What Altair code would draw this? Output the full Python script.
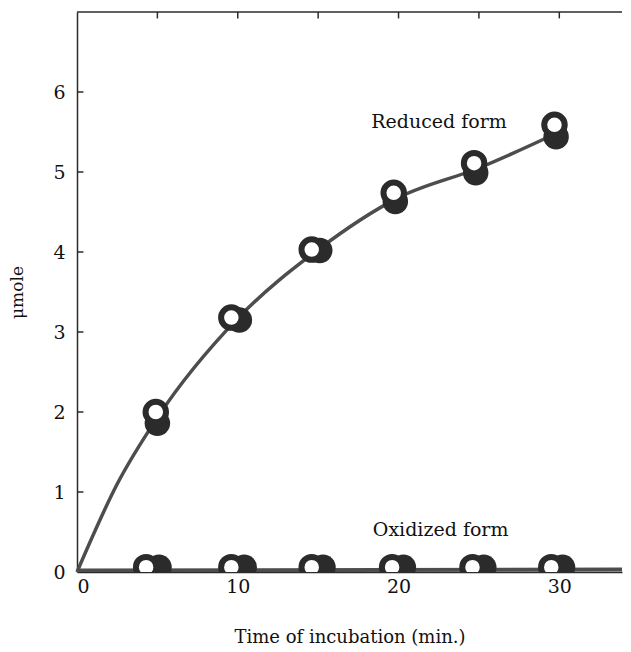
import altair as alt
import pandas as pd

# ---- data ----
# smooth curve through the reduced-form data
curve_x = [0, 2.5, 5, 10, 15, 20, 25, 30]
curve_y = [0, 1.1, 1.93, 3.17, 4.03, 4.68, 5.05, 5.5]

# reduced form: open and filled markers (duplicate determinations)
red_open_x = [4.9, 9.6, 14.6, 19.7, 24.7, 29.7]
red_open_y = [2.0, 3.18, 4.03, 4.74, 5.11, 5.59]
red_fill_x = [5.0, 10.1, 15.1, 19.8, 24.8, 29.8]
red_fill_y = [1.86, 3.15, 4.02, 4.63, 4.99, 5.44]

# oxidized form: open and filled markers along the baseline
ox_open_x = [4.3, 9.6, 14.6, 19.6, 24.6, 29.5]
ox_fill_x = [5.1, 10.4, 15.3, 20.3, 25.3, 30.2]
ox_y = [0.06, 0.06, 0.06, 0.06, 0.06, 0.06]

# oxidized-form line
ox_line_x = [0, 34]
ox_line_y = [0.02, 0.03]

x_labels = [0, 10, 20, 30]
y_labels = [0, 1, 2, 3, 4, 5, 6]
y_inner_ticks = [1, 2, 3, 4, 5, 6]
top_ticks = [5, 10, 15, 20, 25, 30]

X_MAX = 33.9
Y_MAX = 7.0
FONT = "DejaVu Serif"
INK = "#2b2b2b"
LINE = "#4d4d4d"

xs = alt.Scale(domain=[0, X_MAX], nice=False, zero=False)
ys = alt.Scale(domain=[0, Y_MAX], nice=False, zero=False)

x_axis = alt.Axis(values=x_labels, format="d", ticks=False, grid=False, domain=True,
                  domainColor=INK, domainWidth=1.5, labelFont=FONT,
                  labelFontSize=19, labelColor="#111", labelPadding=5,
                  title="Time  of  incubation (min.)", titleFont=FONT,
                  titleFontSize=18, titleFontWeight="normal", titleColor="#111",
                  titlePadding=32)
y_axis = alt.Axis(values=y_labels, format="d", ticks=False, grid=False, domain=True,
                  domainColor=INK, domainWidth=1.5, labelFont=FONT,
                  labelFontSize=19, labelColor="#111", labelPadding=12,
                  title="μmole", titleFont=FONT, titleFontSize=17,
                  titleFontWeight="normal", titleColor="#111", titlePadding=26)

df_curve = pd.DataFrame({"x": curve_x, "y": curve_y})
df_red_open = pd.DataFrame({"x": red_open_x, "y": red_open_y})
df_red_fill = pd.DataFrame({"x": red_fill_x, "y": red_fill_y})
df_ox_open = pd.DataFrame({"x": ox_open_x, "y": ox_y})
df_ox_fill = pd.DataFrame({"x": ox_fill_x, "y": ox_y})
df_ox_line = pd.DataFrame({"x": ox_line_x, "y": ox_line_y})
df_yt = pd.DataFrame({"y": y_inner_ticks})
df_tt = pd.DataFrame({"x": top_ticks})

ox_line = alt.Chart(df_ox_line).mark_line(color=LINE, strokeWidth=4, clip=True).encode(
    x=alt.X("x:Q", scale=xs, axis=x_axis),
    y=alt.Y("y:Q", scale=ys, axis=y_axis),
)

curve = alt.Chart(df_curve).mark_line(color=LINE, strokeWidth=3.5, interpolate="monotone").encode(
    x=alt.X("x:Q", scale=xs), y=alt.Y("y:Q", scale=ys)
)

OPEN_SIZE = 420
FILL_SIZE = 650

red_fill = alt.Chart(df_red_fill).mark_point(shape="circle", filled=True, size=FILL_SIZE,
                                             color=INK, opacity=1).encode(
    x=alt.X("x:Q", scale=xs), y=alt.Y("y:Q", scale=ys)
)
red_open = alt.Chart(df_red_open).mark_point(shape="circle", filled=False, size=OPEN_SIZE,
                                             stroke=INK, fill="white", fillOpacity=1,
                                             strokeWidth=6, opacity=1).encode(
    x=alt.X("x:Q", scale=xs), y=alt.Y("y:Q", scale=ys)
)
ox_fill = alt.Chart(df_ox_fill).mark_point(shape="circle", filled=True, size=FILL_SIZE,
                                           color=INK, opacity=1, clip=True).encode(
    x=alt.X("x:Q", scale=xs), y=alt.Y("y:Q", scale=ys)
)
ox_open = alt.Chart(df_ox_open).mark_point(shape="circle", filled=False, size=OPEN_SIZE,
                                           stroke=INK, fill="white", fillOpacity=1,
                                           strokeWidth=6, opacity=1, clip=True).encode(
    x=alt.X("x:Q", scale=xs), y=alt.Y("y:Q", scale=ys)
)

# inward ticks on the left axis
left_ticks = alt.Chart(df_yt).mark_rule(color=INK, strokeWidth=1.5).encode(
    y=alt.Y("y:Q", scale=ys), x=alt.datum(0), x2=alt.datum(0.4)
)
# top frame and its inward ticks
top_frame = alt.Chart(pd.DataFrame({"a": [0]})).mark_rule(color=INK, strokeWidth=1.5).encode(
    y=alt.datum(Y_MAX), x=alt.datum(0), x2=alt.datum(X_MAX)
)
top_ticks_m = alt.Chart(df_tt).mark_rule(color=INK, strokeWidth=1.5).encode(
    x=alt.X("x:Q", scale=xs), y=alt.datum(Y_MAX), y2=alt.datum(Y_MAX - 0.08)
)

labels = alt.Chart(pd.DataFrame({
    "x": [18.3, 18.4], "y": [5.62, 0.52], "t": ["Reduced form", "Oxidized form"]
})).mark_text(align="left", baseline="middle", font=FONT, fontSize=19,
              color="#111").encode(
    x=alt.X("x:Q", scale=xs), y=alt.Y("y:Q", scale=ys), text="t:N"
)

chart = alt.layer(
    ox_line, curve, red_fill, red_open, ox_fill, ox_open,
    left_ticks, top_frame, top_ticks_m, labels
).properties(
    width=545, height=560,
    padding={"left": 0, "top": 3, "right": 0, "bottom": 0},
    background="white",
).configure_view(stroke=None)

chart.save("out.html", embed_options={"renderer": "svg", "actions": False})
